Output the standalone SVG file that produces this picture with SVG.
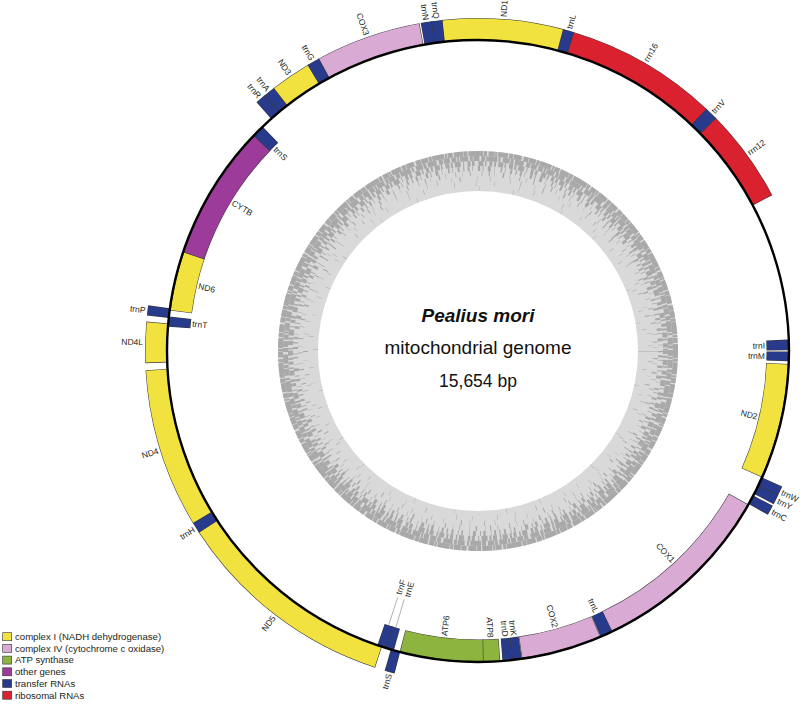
<svg xmlns="http://www.w3.org/2000/svg" width="800" height="704" viewBox="0 0 800 704">
<style>
.ol{fill:none;stroke:#3a3a3a;stroke-width:22}
.f{fill:none;stroke-width:21}
.Y{stroke:#F1E23F}.P{stroke:#D9AAD3}.G{stroke:#8DB43E}.V{stroke:#9C3B99}.B{stroke:#283A8B}.R{stroke:#DA2130}
.t{font-family:"Liberation Sans",Arial,sans-serif;font-size:8.5px;fill:#231f20;dominant-baseline:central}
.s{text-anchor:start}.e{text-anchor:end}
.gc{fill:none;stroke:#a9a9a9;stroke-width:5}
.ld{stroke:#8a8a8a;stroke-width:0.6}
.lg{font-family:"Liberation Sans",Arial,sans-serif;font-size:9.6px;fill:#231f20}
.lb{stroke:#333;stroke-width:0.6}
.ttl{font-family:"Liberation Sans",Arial,sans-serif;fill:#111;text-anchor:middle}
</style>
<rect width="800" height="704" fill="#fff"/>
<g id="gc-ring" transform="translate(478 351)">
<circle r="180" fill="none" stroke="#d9d9d9" stroke-width="40"/>
<circle class="gc" r="197.5" stroke-dasharray="7 .8 3 .6 12 1 2 .7 5 1.3 9 .5 4 1 15 .7 3 1.6 6 .5 2 .9 10 1.2 4 .7 8 2 5 .6"/>
<circle class="gc" r="192.5" stroke-dasharray="5 1 2 .9 8 1.6 3 .7 6 1.9 4 1 11 1.2 2 2.4 7 .8 3 1.4 9 2.6 4 1 6 1.5"/>
<circle class="gc" r="187.5" stroke-dasharray="3 1.8 2 2.2 5 1.3 1.5 3 4 1.4 2 2 6 2.4 1 3.4 3 1.5 2.5 4 5 1.6 1.5 2.8"/>
<circle class="gc" r="182.5" stroke-dasharray="1.2 3.2 2 2.6 .7 5 2.4 2.4 1 4.2 3 3.4 .5 6 1.6 2.6 .8 4.6 2 3.6"/>
<circle class="gc" r="177.5" stroke-dasharray=".6 6.5 1.1 4.6 .4 8 1.4 5.6 .5 9.5 .8 6.2 .4 7 1 11"/>
<circle class="gc" r="172.5" stroke-dasharray=".5 10 .7 14 .4 8 1 17 .4 12 .5 20"/>
<circle class="gc" r="167.5" stroke-dasharray=".4 18 .5 25 .4 15 .5 31 .6 21"/>
<circle class="gc" r="162.5" stroke-dasharray=".4 34 .5 52 .3 41 .4 63"/>
</g>
<g id="title">
<text class="ttl" x="478" y="322" font-size="19" font-weight="bold" font-style="italic">Pealius mori</text>
<text class="ttl" x="478" y="354" font-size="19">mitochondrial genome</text>
<text class="ttl" x="478" y="387" font-size="17.5">15,654 bp</text>
</g>
<g id="genes" transform="translate(478 351)">
<!-- outer strand -->
<g id="COX3"><circle class="ol" r="322" pathLength="360" transform="rotate(241.3)" stroke-dasharray="18.6 360"/><circle class="f P" r="322" pathLength="360" transform="rotate(241.4)" stroke-dasharray="18.4 360"/><text class="t e" transform="rotate(250.6) translate(335 0) rotate(180)">COX3</text></g>
<g id="trnN"><circle class="ol" r="322" pathLength="360" transform="rotate(260.1)" stroke-dasharray="2 360"/><circle class="f B" r="322" pathLength="360" transform="rotate(260.2)" stroke-dasharray="1.8 360"/><text class="t e" transform="rotate(261.1) translate(335 0) rotate(180)">trnN</text></g>
<g id="ND1"><circle class="ol" r="322" pathLength="360" transform="rotate(263.7)" stroke-dasharray="21.3 360"/><circle class="f Y" r="322" pathLength="360" transform="rotate(263.8)" stroke-dasharray="21.1 360"/><text class="t s" transform="rotate(-85.65) translate(335 0)">ND1</text></g>
<g id="trnQ"><circle class="ol" r="322" pathLength="360" transform="rotate(261.9)" stroke-dasharray="2 360"/><circle class="f B" r="322" pathLength="360" transform="rotate(262)" stroke-dasharray="1.8 360"/><text class="t e" transform="rotate(262.9) translate(335 0) rotate(180)">trnQ</text></g>
<g id="rrn16"><circle class="ol" r="322" pathLength="360" transform="rotate(-73.4)" stroke-dasharray="26.9 360"/><circle class="f R" r="322" pathLength="360" transform="rotate(-73.3)" stroke-dasharray="26.7 360"/><text class="t s" transform="rotate(-59.95) translate(335 0)">rrn16</text></g>
<g id="trnL1"><circle class="ol" r="322" pathLength="360" transform="rotate(-75.2)" stroke-dasharray="2 360"/><circle class="f B" r="322" pathLength="360" transform="rotate(-75.1)" stroke-dasharray="1.8 360"/><text class="t s" transform="rotate(-74.2) translate(335 0)">trnL</text></g>
<g id="rrn12"><circle class="ol" r="322" pathLength="360" transform="rotate(-44.5)" stroke-dasharray="16.6 360"/><circle class="f R" r="322" pathLength="360" transform="rotate(-44.4)" stroke-dasharray="16.4 360"/><text class="t s" transform="rotate(-36.2) translate(335 0)">rrn12</text></g>
<g id="trnV"><circle class="ol" r="322" pathLength="360" transform="rotate(-46.7)" stroke-dasharray="2.4 360"/><circle class="f B" r="322" pathLength="360" transform="rotate(-46.6)" stroke-dasharray="2.2 360"/><text class="t s" transform="rotate(-45.5) translate(335 0)">trnV</text></g>
<g id="trnW"><circle class="ol" r="322" pathLength="360" transform="rotate(24)" stroke-dasharray="1.8 360"/><circle class="f B" r="322" pathLength="360" transform="rotate(24.1)" stroke-dasharray="1.6 360"/><text class="t s" transform="rotate(24.9) translate(335 0)">trnW</text></g>
<g id="trnY"><circle class="ol" r="322" pathLength="360" transform="rotate(25.6)" stroke-dasharray="1.8 360"/><circle class="f B" r="322" pathLength="360" transform="rotate(25.7)" stroke-dasharray="1.6 360"/><text class="t s" transform="rotate(26.5) translate(335 0)">trnY</text></g>
<g id="trnC"><circle class="ol" r="322" pathLength="360" transform="rotate(27.7)" stroke-dasharray="1.8 360"/><circle class="f B" r="322" pathLength="360" transform="rotate(27.8)" stroke-dasharray="1.6 360"/><text class="t s" transform="rotate(28.6) translate(335 0)">trnC</text></g>
<g id="trnS2"><circle class="ol" r="322" pathLength="360" transform="rotate(104.5)" stroke-dasharray="1.8 360"/><circle class="f B" r="322" pathLength="360" transform="rotate(104.6)" stroke-dasharray="1.6 360"/><text class="t e" transform="rotate(105.4) translate(335 0) rotate(180)">trnS</text></g>
<g id="ND5"><circle class="ol" r="322" pathLength="360" transform="rotate(108)" stroke-dasharray="39.1 360"/><circle class="f Y" r="322" pathLength="360" transform="rotate(108.1)" stroke-dasharray="38.9 360"/><text class="t e" transform="rotate(127.55) translate(335 0) rotate(180)">ND5</text></g>
<g id="ND4"><circle class="ol" r="322" pathLength="360" transform="rotate(148.7)" stroke-dasharray="28 360"/><circle class="f Y" r="322" pathLength="360" transform="rotate(148.8)" stroke-dasharray="27.8 360"/><text class="t e" transform="rotate(162.7) translate(335 0) rotate(180)">ND4</text></g>
<g id="trnH"><circle class="ol" r="322" pathLength="360" transform="rotate(146.9)" stroke-dasharray="2 360"/><circle class="f B" r="322" pathLength="360" transform="rotate(147)" stroke-dasharray="1.8 360"/><text class="t e" transform="rotate(147.9) translate(335 0) rotate(180)">trnH</text></g>
<g id="ND4L"><circle class="ol" r="322" pathLength="360" transform="rotate(177.9)" stroke-dasharray="7.2 360"/><circle class="f Y" r="322" pathLength="360" transform="rotate(178)" stroke-dasharray="7 360"/><text class="t e" transform="rotate(181.5) translate(335 0) rotate(180)">ND4L</text></g>
<g id="trnP"><circle class="ol" r="322" pathLength="360" transform="rotate(186.1)" stroke-dasharray="1.8 360"/><circle class="f B" r="322" pathLength="360" transform="rotate(186.2)" stroke-dasharray="1.6 360"/><text class="t e" transform="rotate(187) translate(335 0) rotate(180)">trnP</text></g>
<g id="trnR"><circle class="ol" r="322" pathLength="360" transform="rotate(228.3)" stroke-dasharray="2 360"/><circle class="f B" r="322" pathLength="360" transform="rotate(228.4)" stroke-dasharray="1.8 360"/><text class="t e" transform="rotate(229.3) translate(335 0) rotate(180)">trnR</text></g>
<g id="trnA"><circle class="ol" r="322" pathLength="360" transform="rotate(230.2)" stroke-dasharray="2 360"/><circle class="f B" r="322" pathLength="360" transform="rotate(230.3)" stroke-dasharray="1.8 360"/><text class="t e" transform="rotate(231.2) translate(335 0) rotate(180)">trnA</text></g>
<g id="ND3"><circle class="ol" r="322" pathLength="360" transform="rotate(232.1)" stroke-dasharray="7.3 360"/><circle class="f Y" r="322" pathLength="360" transform="rotate(232.2)" stroke-dasharray="7.1 360"/><text class="t e" transform="rotate(235.75) translate(335 0) rotate(180)">ND3</text></g>
<g id="trnG"><circle class="ol" r="322" pathLength="360" transform="rotate(239.2)" stroke-dasharray="2.3 360"/><circle class="f B" r="322" pathLength="360" transform="rotate(239.3)" stroke-dasharray="2.1 360"/><text class="t e" transform="rotate(240.35) translate(335 0) rotate(180)">trnG</text></g>
<!-- inner strand -->
<g id="trnI"><circle class="ol" r="299.5" pathLength="360" transform="rotate(-2.1)" stroke-dasharray="2 360"/><circle class="f B" r="299.5" pathLength="360" transform="rotate(-2)" stroke-dasharray="1.8 360"/><text class="t e" transform="rotate(-1.1) translate(287 0)">trnI</text></g>
<g id="trnM"><circle class="ol" r="299.5" pathLength="360" transform="rotate(0.1)" stroke-dasharray="1.8 360"/><circle class="f B" r="299.5" pathLength="360" transform="rotate(0.2)" stroke-dasharray="1.6 360"/><text class="t e" transform="rotate(1) translate(287 0)">trnM</text></g>
<g id="ND2"><circle class="ol" r="299.5" pathLength="360" transform="rotate(2.4)" stroke-dasharray="21.6 360"/><circle class="f Y" r="299.5" pathLength="360" transform="rotate(2.5)" stroke-dasharray="21.4 360"/><text class="t e" transform="rotate(13.2) translate(287 0)">ND2</text></g>
<g id="COX1"><circle class="ol" r="299.5" pathLength="360" transform="rotate(29.6)" stroke-dasharray="35 360"/><circle class="f P" r="299.5" pathLength="360" transform="rotate(29.7)" stroke-dasharray="34.8 360"/><text class="t e" transform="rotate(47.1) translate(287 0)">COX1</text></g>
<g id="trnL2"><circle class="ol" r="299.5" pathLength="360" transform="rotate(64.4)" stroke-dasharray="2.4 360"/><circle class="f B" r="299.5" pathLength="360" transform="rotate(64.5)" stroke-dasharray="2.2 360"/><text class="t e" transform="rotate(65.6) translate(287 0)">trnL</text></g>
<g id="COX2"><circle class="ol" r="299.5" pathLength="360" transform="rotate(66.8)" stroke-dasharray="15.1 360"/><circle class="f P" r="299.5" pathLength="360" transform="rotate(66.9)" stroke-dasharray="14.9 360"/><text class="t e" transform="rotate(74.35) translate(287 0)">COX2</text></g>
<g id="trnK"><circle class="ol" r="299.5" pathLength="360" transform="rotate(81.9)" stroke-dasharray="1.8 360"/><circle class="f B" r="299.5" pathLength="360" transform="rotate(82)" stroke-dasharray="1.6 360"/><text class="t e" transform="rotate(82.8) translate(287 0)">trnK</text></g>
<g id="trnD"><circle class="ol" r="299.5" pathLength="360" transform="rotate(83.6)" stroke-dasharray="1.9 360"/><circle class="f B" r="299.5" pathLength="360" transform="rotate(83.7)" stroke-dasharray="1.7 360"/><text class="t e" transform="rotate(84.55) translate(287 0)">trnD</text></g>
<g id="ATP6"><circle class="ol" r="299.5" pathLength="360" transform="rotate(88.9)" stroke-dasharray="15.7 360"/><circle class="f G" r="299.5" pathLength="360" transform="rotate(89)" stroke-dasharray="15.5 360"/><text class="t s" transform="rotate(96.75) translate(287 0) rotate(180)">ATP6</text></g>
<g id="ATP8"><circle class="ol" r="299.5" pathLength="360" transform="rotate(85.9)" stroke-dasharray="3.2 360"/><circle class="f G" r="299.5" pathLength="360" transform="rotate(86)" stroke-dasharray="3 360"/><text class="t e" transform="rotate(87.5) translate(287 0)">ATP8</text></g>
<g id="trnE"><circle class="ol" r="299.5" pathLength="360" transform="rotate(105.7)" stroke-dasharray="1.7 360"/><circle class="f B" r="299.5" pathLength="360" transform="rotate(105.8)" stroke-dasharray="1.5 360"/><text class="t s" transform="rotate(106.1) translate(256 0) rotate(180)">trnE</text></g>
<g id="trnF"><circle class="ol" r="299.5" pathLength="360" transform="rotate(107.2)" stroke-dasharray="1.7 360"/><circle class="f B" r="299.5" pathLength="360" transform="rotate(107.3)" stroke-dasharray="1.5 360"/><text class="t s" transform="rotate(108.1) translate(256 0) rotate(180)">trnF</text></g>
<g id="trnT"><circle class="ol" r="299.5" pathLength="360" transform="rotate(184.5)" stroke-dasharray="1.9 360"/><circle class="f B" r="299.5" pathLength="360" transform="rotate(184.6)" stroke-dasharray="1.7 360"/><text class="t s" transform="rotate(185.45) translate(287 0) rotate(180)">trnT</text></g>
<g id="ND6"><circle class="ol" r="299.5" pathLength="360" transform="rotate(187.5)" stroke-dasharray="11.2 360"/><circle class="f Y" r="299.5" pathLength="360" transform="rotate(187.6)" stroke-dasharray="11 360"/><text class="t s" transform="rotate(193.1) translate(287 0) rotate(180)">ND6</text></g>
<g id="CYTB"><circle class="ol" r="299.5" pathLength="360" transform="rotate(198.5)" stroke-dasharray="25.5 360"/><circle class="f V" r="299.5" pathLength="360" transform="rotate(198.6)" stroke-dasharray="25.3 360"/><text class="t s" transform="rotate(211.25) translate(287 0) rotate(180)">CYTB</text></g>
<g id="trnS1"><circle class="ol" r="299.5" pathLength="360" transform="rotate(223.8)" stroke-dasharray="2.4 360"/><circle class="f B" r="299.5" pathLength="360" transform="rotate(223.9)" stroke-dasharray="2.2 360"/><text class="t s" transform="rotate(225) translate(287 0) rotate(180)">trnS</text></g>
</g>
<g id="backbone" transform="translate(478 351)">
<circle r="311" fill="none" stroke="#000" stroke-width="2.4"/>
</g>
<g id="connectors" transform="translate(478 351)">
<line class="ld" x1="288" y1="0" x2="259" y2="0" transform="rotate(106.55)"/>
<line class="ld" x1="288" y1="0" x2="259" y2="0" transform="rotate(108.05)"/>
</g>
<g id="legend">
<rect class="lb" x="2.7" y="632.7" width="9" height="8" fill="#F1E23F"/>
<text class="lg" x="15" y="640">complex I (NADH dehydrogenase)</text>
<rect class="lb" x="2.7" y="644.4" width="9" height="8" fill="#D9AAD3"/>
<text class="lg" x="15" y="651.7">complex IV (cytochrome c oxidase)</text>
<rect class="lb" x="2.7" y="656.1" width="9" height="8" fill="#8DB43E"/>
<text class="lg" x="15" y="663.4">ATP synthase</text>
<rect class="lb" x="2.7" y="667.8" width="9" height="8" fill="#9C3B99"/>
<text class="lg" x="15" y="675.1">other genes</text>
<rect class="lb" x="2.7" y="679.5" width="9" height="8" fill="#283A8B"/>
<text class="lg" x="15" y="686.8">transfer RNAs</text>
<rect class="lb" x="2.7" y="691.2" width="9" height="8" fill="#DA2130"/>
<text class="lg" x="15" y="698.5">ribosomal RNAs</text>
</g>
</svg>
